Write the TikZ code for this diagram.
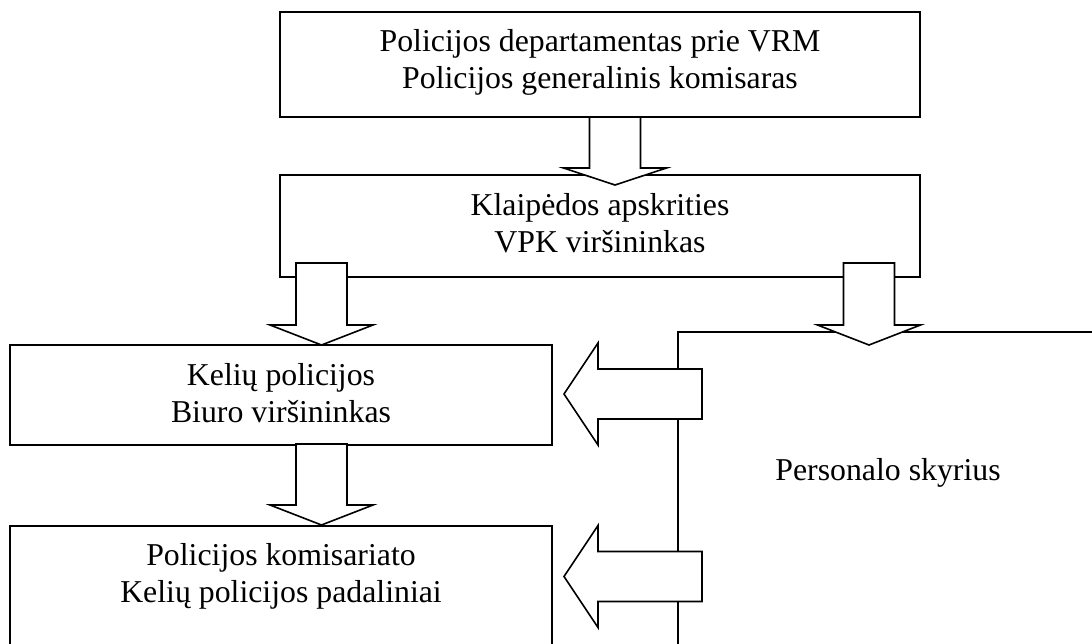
\documentclass[tikz,border=0pt]{standalone}
\usepackage{fontspec}
\setmainfont{Liberation Serif}
\usetikzlibrary{calc}
\tikzset{
  blk sw/.store in=\blksw, blk hw/.store in=\blkhw, blk hl/.store in=\blkhl,
  blk sw=25.5pt, blk hw=51.5pt, blk hl=20pt,
  blockarrow/.style={draw, fill=white, line width=1.6pt, line join=miter,
    to path={($(\tikztotarget)!\blkhl!(\tikztostart)$) coordinate (blkH)
      ($(\tikztostart)!\blksw!90:(\tikztotarget)$)
      -- ($(blkH)!\blksw!90:(\tikztotarget)$)
      -- ($(blkH)!\blkhw!90:(\tikztotarget)$)
      -- (\tikztotarget)
      -- ($(blkH)!\blkhw!-90:(\tikztotarget)$)
      -- ($(blkH)!\blksw!-90:(\tikztotarget)$)
      -- ($(\tikztostart)!\blksw!-90:(\tikztotarget)$) -- cycle}},
  box/.style={draw, line width=1.6pt, rectangle, inner sep=0pt},
  txt/.style={inner sep=0pt, align=center, font=\fontsize{31.8}{37.5}\selectfont}
}
\begin{document}
\begin{tikzpicture}[x=1pt,y=-1pt]
\useasboundingbox (0,0) rectangle (1092,644);
\clip (0,0) rectangle (1092,644);
% boxes
\node[box, minimum width=640pt, minimum height=105pt] (top) at (600,64.5) {};
\node[box, minimum width=640pt, minimum height=102pt] (vpk) at (600,226) {};
\node[box, minimum width=542pt, minimum height=100pt] (kel) at (281,395) {};
\node[box, minimum width=542pt, minimum height=200pt] (kom) at (281,626) {};
\node[box, minimum width=422pt, minimum height=468pt] (per) at (889,566) {};
% texts
\node[txt, anchor=north] (topT) at (600,29) {Policijos departamentas prie VRM\\Policijos generalinis komisaras};
\node[txt, anchor=north] (vpkT) at (600,193) {Klaipėdos apskrities\\VPK viršininkas};
\node[txt, anchor=north] (kelT) at (281,363) {Kelių policijos\\Biuro viršininkas};
\node[txt, anchor=north] (komT) at (281,543) {Policijos komisariato\\Kelių policijos padaliniai};
\node[txt, anchor=base] (perT) at (888,480) {Personalo skyrius};
% arrow end points
\coordinate (a1s) at (615,117);   \coordinate (a1t) at (615,185);
\coordinate (a2s) at (321.5,263); \coordinate (a2t) at (321.5,345);
\coordinate (a3s) at (869,263);   \coordinate (a3t) at (869,345);
\coordinate (a4s) at (321.5,444); \coordinate (a4t) at (321.5,525);
\coordinate (a5s) at (702,394);   \coordinate (a5t) at (564,394);
\coordinate (a6s) at (702,576.5); \coordinate (a6t) at (564,576.5);
% block arrows
\draw[blockarrow, blk hl=17pt] (a1s) to (a1t);
\draw[blockarrow] (a2s) to (a2t);
\draw[blockarrow] (a3s) to (a3t);
\draw[blockarrow] (a4s) to (a4t);
\draw[blockarrow, blk sw=25pt, blk hw=51pt, blk hl=34pt] (a5s) to (a5t);
\draw[blockarrow, blk sw=25pt, blk hw=51pt, blk hl=34pt] (a6s) to (a6t);
\end{tikzpicture}
\end{document}
